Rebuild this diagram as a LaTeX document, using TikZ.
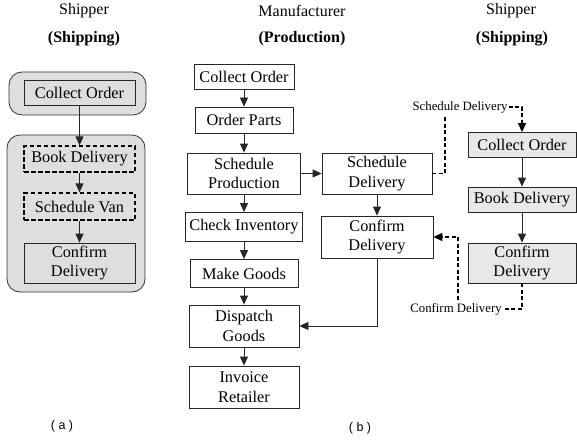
\documentclass[tikz,border=0pt]{standalone}
\usepackage{fontspec}
\setmainfont{Liberation Serif}
\newfontfamily\capfont{Liberation Sans}
\usetikzlibrary{arrows.meta}
\definecolor{boxgray}{HTML}{E8E8E8}
\definecolor{panelgray}{HTML}{DEDEDE}
\begin{document}
\begin{tikzpicture}[x=1pt,y=-1pt,
  box/.style={draw=black!85, line width=0.8pt, inner sep=0pt, align=center,
              font=\fontsize{16.3}{19.5}\selectfont},
  gbox/.style={box, fill=boxgray},
  dbox/.style={box, draw=black, line width=1.3pt, dash pattern=on 4.5pt off 2.5pt},
  panel/.style={draw=black!80, line width=0.8pt, fill=panelgray, rounded corners=13pt},
  flow/.style={draw=black!85, line width=0.8pt, -{Triangle[length=9pt,width=8pt]}},
  msg/.style={draw=black, line width=1.3pt, dash pattern=on 4pt off 2.5pt},
  msgarrow/.style={msg, -{Triangle[length=9pt,width=8pt]}},
  title/.style={font=\fontsize{16}{19}\selectfont, inner sep=0pt},
  msglabel/.style={font=\fontsize{12.8}{15}\selectfont, inner sep=1pt},
  caption/.style={font=\capfont\fontsize{12.5}{15}\selectfont, inner sep=0pt}]
\useasboundingbox (0,0) rectangle (577,441);

% ---- (a) shipper process with grouped stages ----
\node[title] (ta1) at (84,11) {Shipper};
\node[title] (ta2) at (84,39) {\textbf{(Shipping)}};
\node[panel, minimum width=137pt, minimum height=43pt] (pa1) at (77.5,93.5) {};
\node[panel, minimum width=138pt, minimum height=157pt] (pa2) at (76,213.5) {};
\node[box, minimum width=111pt, minimum height=25pt] (aCO) at (79.5,92.5) {Collect Order};
\node[dbox, minimum width=111pt, minimum height=26pt] (aBD) at (79.5,159) {Book Delivery};
\node[dbox, minimum width=111pt, minimum height=27pt] (aSV) at (79.5,206.5) {Schedule Van};
\node[box, minimum width=111pt, minimum height=40pt] (aCD) at (79.5,263) {Confirm\\Delivery};
\draw[flow] (aCO) -- (aBD);
\draw[flow] (aBD) -- (aSV);
\draw[flow] (aSV) -- (aCD);
\node[caption] (capa) at (62,426) {( a )};

% ---- (b) manufacturer process ----
\node[title] (tb1) at (302,11) {Manufacturer};
\node[title] (tb2) at (302,39) {\textbf{(Production)}};
\node[box, minimum width=100pt, minimum height=25pt] (mCO) at (244,76.5) {Collect Order};
\node[box, minimum width=98pt, minimum height=26pt] (mOP) at (244,120) {Order Parts};
\node[box, minimum width=113pt, minimum height=41pt] (mSP) at (244,173.5) {Schedule\\Production};
\node[box, minimum width=117pt, minimum height=29pt] (mCI) at (244,227) {Check Inventory};
\node[box, minimum width=108pt, minimum height=28pt] (mMG) at (244,273.5) {Make Goods};
\node[box, minimum width=110pt, minimum height=42pt] (mDG) at (244,326) {Dispatch\\Goods};
\node[box, minimum width=110pt, minimum height=42pt] (mIR) at (244,387) {Invoice\\Retailer};
\node[box, minimum width=110pt, minimum height=41pt] (mSD) at (377,173.5) {Schedule\\Delivery};
\node[box, minimum width=112pt, minimum height=42pt] (mCD) at (377,237) {Confirm\\Delivery};
\draw[flow] (mCO) -- (mOP);
\draw[flow] (mOP) -- (mSP);
\draw[flow] (mSP) -- (mCI);
\draw[flow] (mCI) -- (mMG);
\draw[flow] (mMG) -- (mDG);
\draw[flow] (mDG) -- (mIR);
\draw[flow] (mSP) -- (mSD);
\draw[flow] (mSD) -- (mCD);
\draw[flow] (mCD.south) |- (mDG.east);

% ---- (b) shipper process ----
\node[title] (tc1) at (511,11) {Shipper};
\node[title] (tc2) at (512,39) {\textbf{(Shipping)}};
\node[gbox, minimum width=108pt, minimum height=25pt] (rCO) at (522,145) {Collect Order};
\node[gbox, minimum width=108pt, minimum height=25pt] (rBD) at (522,199.5) {Book Delivery};
\node[gbox, minimum width=108pt, minimum height=40pt] (rCD) at (522,263) {Confirm\\Delivery};
\draw[flow] (rCO) -- (rBD);
\draw[flow] (rBD) -- (rCD);

% ---- messages between the two parties ----
\node[msglabel] (lSD) at (460,107) {Schedule Delivery};
\node[msglabel] (lCD) at (456,309) {Confirm Delivery};
\draw[msg] (mSD.east) -| ([xshift=-15pt,yshift=-2pt]lSD.south);
\draw[msgarrow] (lSD.east) -| (rCO.north);
\draw[msg] (rCD.south) |- (lCD.east);
\draw[msgarrow] ([xshift=2pt,yshift=2pt]lCD.north) |- (mCD.east);
\node[caption] (capb) at (360,428) {( b )};
\end{tikzpicture}
\end{document}
